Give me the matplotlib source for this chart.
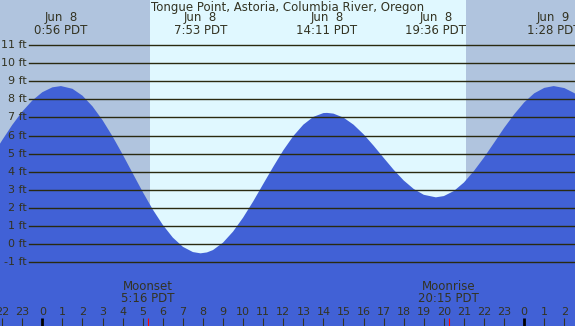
import matplotlib
matplotlib.use('Agg')
import matplotlib.pyplot as plt

# Tide height (ft), hours from midnight Jun 8 (PDT)
tide_hours = [-3.0, -2.5, -2.0, -1.5, -1.0, -0.5, 0.0, 0.5, 0.93, 1.5, 2.0, 2.5,
              3.0, 3.5, 4.0, 4.5, 5.0, 5.5, 6.0, 6.5, 7.0, 7.5, 7.88, 8.2, 8.5,
              9.0, 9.5, 10.0, 10.5, 11.0, 11.5, 12.0, 12.5, 13.0, 13.5, 14.0,
              14.18, 14.5, 15.0, 15.5, 16.0, 16.5, 17.0, 17.5, 18.0, 18.5, 19.0,
              19.6, 20.0, 20.5, 21.0, 21.5, 22.0, 22.5, 23.0, 23.5, 24.0, 24.5,
              25.0, 25.47, 26.0, 26.5, 27.0]
tide_ft = [3.96, 4.86, 5.74, 6.58, 7.32, 7.93, 8.39, 8.66, 8.73, 8.58, 8.20, 7.61,
           6.85, 5.95, 4.96, 3.92, 2.89, 1.92, 1.07, 0.37, -0.14, -0.43, -0.50, -0.45, -0.32,
           0.09, 0.70, 1.47, 2.36, 3.32, 4.27, 5.18, 5.97, 6.60, 7.03, 7.24,
           7.25, 7.21, 6.99, 6.60, 6.07, 5.44, 4.77, 4.11, 3.52, 3.05, 2.73,
           2.59, 2.66, 2.94, 3.41, 4.05, 4.79, 5.60, 6.42, 7.17, 7.83, 8.33,
           8.63, 8.73, 8.62, 8.34, 7.89]

# high / low tide labels
ext_hours = [0.93, 7.88, 14.18, 19.6, 25.47]
ext_days = ['Jun  8', 'Jun  8', 'Jun  8', 'Jun  8', 'Jun  9']
ext_times = ['0:56 PDT', '7:53 PDT', '14:11 PDT', '19:36 PDT', '1:28 PDT']

# sun and moon
sunrise = 5.36
sunset = 21.1
moon_hours = [5.27, 20.25]
moon_names = ['Moonset', 'Moonrise']
moon_times = ['5:16 PDT', '20:15 PDT']

ft_levels = list(range(-1, 12))
hour_ticks = list(range(-2, 27))

title = 'Tongue Point, Astoria, Columbia River, Oregon'

night = '#b0c4de'
day = '#e0f8ff'
water = '#4161d6'
ink = '#333322'

plt.rcParams['font.family'] = 'DejaVu Sans'

fig = plt.figure(figsize=(5.75, 3.26), dpi=100)
ax = fig.add_axes([0, 0, 1, 1])
xmin, xmax = -2.107, 26.53
ax.set_xlim(xmin, xmax)
ax.set_ylim(-4.51, 13.48)
ax.axis('off')

# dia / noche
ax.axvspan(xmin, sunrise, color=night, lw=0)
ax.axvspan(sunrise, sunset, color=day, lw=0)
ax.axvspan(sunset, xmax, color=night, lw=0)

# marea
ax.fill_between(tide_hours, tide_ft, -10, color=water, lw=0, zorder=2)

# lineas horizontales y etiquetas en pies
ytr = ax.get_yaxis_transform()
for ft in ft_levels:
    ax.axhline(ft, xmin=29 / 575, xmax=1, color='#2a2a10', lw=1.0, zorder=3)
    ax.text(27 / 575, ft, f'{ft} ft', transform=ytr, ha='right', va='center',
            fontsize=8, color=ink, zorder=4)

xtr = ax.get_xaxis_transform()
ax.text(0.5, 1 - 7 / 326, title, transform=ax.transAxes, ha='center', va='center',
        fontsize=8.5, color=ink)
for h, d, t in zip(ext_hours, ext_days, ext_times):
    ax.text(h, 1 - 17 / 326, d, transform=xtr, ha='center', va='center', fontsize=8.5, color=ink)
    ax.text(h, 1 - 31 / 326, t, transform=xtr, ha='center', va='center', fontsize=8.5, color=ink)

# eje de horas
for h in hour_ticks:
    ax.text(h, 1 - 312 / 326, str(h % 24), transform=xtr, ha='center', va='center',
            fontsize=8, color=ink, zorder=4)
    lw = 2.0 if h % 24 == 0 else 0.8
    c = 'black' if h % 24 == 0 else ink
    ax.vlines(h, 0, 8 / 326, transform=xtr, color=c, lw=lw, zorder=4)

# luna
for h, n, t in zip(moon_hours, moon_names, moon_times):
    ax.vlines(h, 0, 8 / 326, transform=xtr, color='red', lw=0.8, zorder=5)
    ax.text(h, 1 - 287 / 326, n, transform=xtr, ha='center', va='center', fontsize=8.5, color=ink, zorder=4)
    ax.text(h, 1 - 299 / 326, t, transform=xtr, ha='center', va='center', fontsize=8.5, color=ink, zorder=4)

fig.savefig('out.png', dpi=100)
